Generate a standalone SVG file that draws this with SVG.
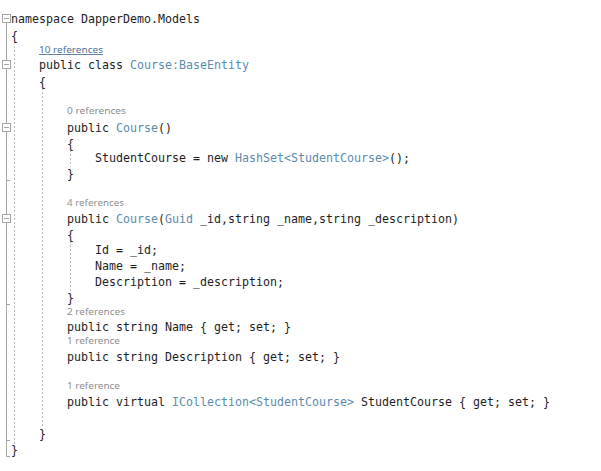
<svg xmlns="http://www.w3.org/2000/svg" width="601" height="471" viewBox="0 0 601 471">
<style>
.c{font-family:"DejaVu Sans Mono","Liberation Mono",monospace;font-size:11.63px;fill:#1e1e1e}
.t{fill:#5b8cab}
.lens{font-family:"Noto Sans","Open Sans",sans-serif;font-size:8.6px;fill:#8e8e8e}
.link{fill:#4f7398;text-decoration:underline}
.ol{stroke:#a6a6a6;stroke-width:1;fill:none}
.box{stroke:#a6a6a6;stroke-width:1;fill:#ffffff}
.guide{stroke:#b9b9b9;stroke-width:1;stroke-dasharray:2,2;fill:none}
</style>
<rect x="0" y="0" width="601" height="471" fill="#ffffff"/>
<g id="outline">
<line class="ol" x1="6.5" y1="23" x2="6.5" y2="456.5"/>
<line class="ol" x1="6.5" y1="180.5" x2="10" y2="180.5"/>
<line class="ol" x1="6.5" y1="304.5" x2="10" y2="304.5"/>
<line class="ol" x1="6.5" y1="440.5" x2="10" y2="440.5"/>
<line class="ol" x1="6.5" y1="456.5" x2="10" y2="456.5"/>
<g id="box-ns"><rect class="box" x="2.5" y="14.5" width="8" height="8"/><line class="ol" x1="4" y1="18.5" x2="9" y2="18.5"/></g>
<g id="box-class"><rect class="box" x="2.5" y="60.5" width="8" height="8"/><line class="ol" x1="4" y1="64.5" x2="9" y2="64.5"/></g>
<g id="box-ctor1"><rect class="box" x="2.5" y="123.5" width="8" height="8"/><line class="ol" x1="4" y1="127.5" x2="9" y2="127.5"/></g>
<g id="box-ctor2"><rect class="box" x="2.5" y="214.5" width="8" height="8"/><line class="ol" x1="4" y1="218.5" x2="9" y2="218.5"/></g>
</g>
<g id="guides">
<line class="guide" x1="14.5" y1="42" x2="14.5" y2="445"/>
<line class="guide" x1="42.5" y1="88" x2="42.5" y2="428"/>
<line class="guide" x1="70.5" y1="150" x2="70.5" y2="167"/>
<line class="guide" x1="70.5" y1="241" x2="70.5" y2="291"/>
</g>
<g id="code">
<text class="c" x="11" y="22.5">namespace DapperDemo.Models</text>
<text class="c" x="11" y="39.5">{</text>
<text class="lens link" x="39" y="53" textLength="64" lengthAdjust="spacingAndGlyphs">10 references</text>
<text class="c" x="39" y="68.5">public class <tspan class="t">Course:BaseEntity</tspan></text>
<text class="c" x="39" y="85.5">{</text>
<text class="lens" x="67" y="114" textLength="59" lengthAdjust="spacingAndGlyphs">0 references</text>
<text class="c" x="67" y="131.5">public <tspan class="t">Course</tspan>()</text>
<text class="c" x="67" y="147.5">{</text>
<text class="c" x="95" y="161.5">StudentCourse = new <tspan class="t">HashSet&lt;StudentCourse&gt;</tspan>();</text>
<text class="c" x="67" y="177.5">}</text>
<text class="lens" x="67" y="206" textLength="57" lengthAdjust="spacingAndGlyphs">4 references</text>
<text class="c" x="67" y="222.5">public <tspan class="t">Course</tspan>(<tspan class="t">Guid</tspan> _id,string _name,string _description)</text>
<text class="c" x="67" y="238.5">{</text>
<text class="c" x="95" y="253.5">Id = _id;</text>
<text class="c" x="95" y="269.5">Name = _name;</text>
<text class="c" x="95" y="285.5">Description = _description;</text>
<text class="c" x="67" y="301.5">}</text>
<text class="lens" x="67" y="315" textLength="58" lengthAdjust="spacingAndGlyphs">2 references</text>
<text class="c" x="67" y="330.5">public string Name { get; set; }</text>
<text class="lens" x="67" y="344" textLength="53" lengthAdjust="spacingAndGlyphs">1 reference</text>
<text class="c" x="67" y="360.5">public string Description { get; set; }</text>
<text class="lens" x="67" y="389" textLength="53" lengthAdjust="spacingAndGlyphs">1 reference</text>
<text class="c" x="67" y="405.5">public virtual <tspan class="t">ICollection&lt;StudentCourse&gt;</tspan> StudentCourse { get; set; }</text>
<text class="c" x="39" y="437.5">}</text>
<text class="c" x="11" y="453.5">}</text>
</g>
</svg>
